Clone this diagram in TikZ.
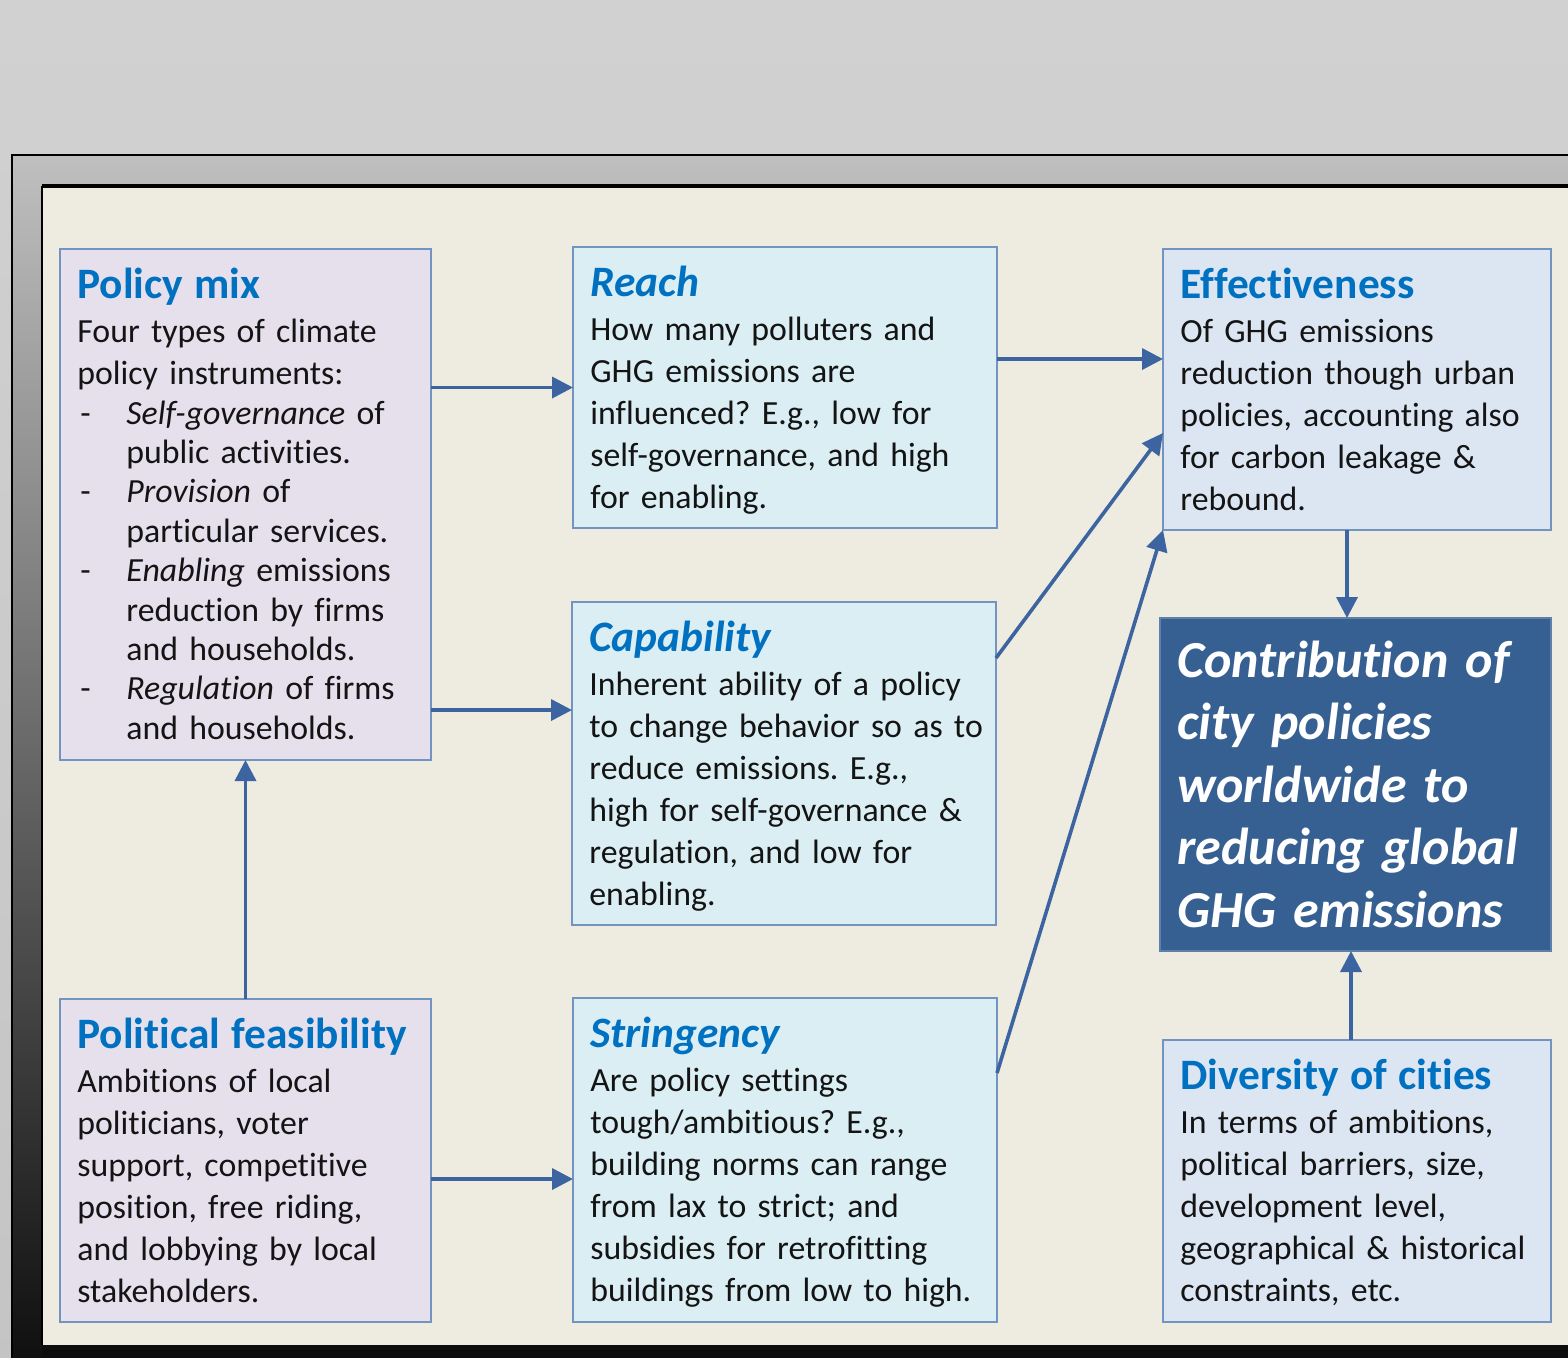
\documentclass[tikz,border=0pt]{standalone}
\usepackage{fontspec}
\setmainfont{Carlito}[Ligatures={NoCommon}]
\usetikzlibrary{arrows.meta}

\definecolor{panel}{HTML}{EEEBE0}
\definecolor{lavender}{HTML}{E5E0EC}
\definecolor{aqua}{HTML}{DAEEF3}
\definecolor{steel}{HTML}{DCE6F2}
\definecolor{boxline}{HTML}{7393C0}
\definecolor{tblue}{HTML}{0070C0}
\definecolor{navy}{HTML}{376092}
\definecolor{arrowc}{HTML}{3B64A0}
\definecolor{ink}{HTML}{141414}

\newcommand{\boxtitle}[1]{{\fontsize{21.7}{21}\selectfont\bfseries\color{tblue}#1}}
\newcommand{\itemdash}{\makebox[24.5pt][l]{\hspace{1.5pt}-}}
\newcommand{\itemgap}{\hspace*{24.5pt}}
\frenchspacing

\begin{document}
\begin{tikzpicture}[x=0.5pt,y=-0.5pt,
  box/.style={draw=boxline, line width=0.75pt, inner sep=0pt, outer sep=0pt, anchor=north west},
  txt/.style={anchor=base west, inner sep=0pt, text width=215pt, align=left,
              font=\fontsize{16.9}{21}\selectfont, text=ink},
  bigtxt/.style={anchor=base west, inner sep=0pt, text width=195pt, align=left,
              font=\fontsize{26}{31.25}\selectfont\bfseries\itshape, text=white},
  arr/.style={draw=arrowc, line width=1.8pt, -{Triangle[length=10.5pt,width=10.5pt]}}]

\useasboundingbox (0,0) rectangle (1568,1357);
\clip (0,0) rectangle (1568,1357);

% backdrop and window frame
\shade[top color=black!18, bottom color=black!23] (0,0) rectangle (1568,1357);
\shade[top color=black!25, middle color=black!46, bottom color=black!94] (12,155) rectangle (1580,1360);
\draw[black, line width=1pt] (1580,155) -- (12,155) -- (12,1360);
\fill[panel] (42,186) rectangle (1580,1345);
\draw[black, line width=2pt] (42,186) -- (1580,186);
\draw[black, line width=1pt] (42,186) -- (42,1345);
\fill[black!95] (42,1345) rectangle (1580,1360);

% boxes
\node[box, fill=lavender, minimum width=185.5pt, minimum height=255.5pt] (pmix) at (60,249) {};
\node[box, fill=lavender, minimum width=185.5pt, minimum height=161.5pt] (polit) at (60,999) {};
\node[box, fill=aqua, minimum width=212pt, minimum height=140.5pt] (reach) at (573,247) {};
\node[box, fill=aqua, minimum width=212pt, minimum height=161.5pt] (cap) at (572,602) {};
\node[box, fill=aqua, minimum width=212pt, minimum height=162pt] (strin) at (573,998) {};
\node[box, fill=steel, minimum width=194pt, minimum height=140.5pt] (eff) at (1163,249) {};
\node[box, fill=navy, draw=navy!80!white, minimum width=195.5pt, minimum height=166.5pt] (contrib) at (1160,618) {};
\node[box, fill=steel, minimum width=194pt, minimum height=141pt] (div) at (1163,1040) {};

% texts
\node[txt] (pmixT) at ([xshift=8.5pt,yshift=-24.5pt]pmix.north west) {%
\boxtitle{Policy mix}\\[1pt]
Four types of climate\\
policy instruments:\\[-1pt]
\itemdash\textit{Self-governance} of\\[-1.3pt]
\itemgap public activities.\\[-1.3pt]
\itemdash\textit{Provision} of\\[-1.3pt]
\itemgap particular services.\\[-1.3pt]
\itemdash\textit{Enabling} emissions\\[-1.3pt]
\itemgap reduction by firms\\[-1.3pt]
\itemgap and households.\\[-1.3pt]
\itemdash\textit{Regulation} of firms\\[-1.3pt]
\itemgap and households.};

\node[txt] (politT) at ([xshift=8.5pt,yshift=-24.5pt]polit.north west) {%
\boxtitle{Political feasibility}\\[1pt]
Ambitions of local\\
politicians, voter\\
support, competitive\\
position, free riding,\\
and lobbying by local\\
stakeholders.};

\node[txt] (reachT) at ([xshift=8.5pt,yshift=-24.5pt]reach.north west) {%
\boxtitle{\itshape Reach}\\[1pt]
How many polluters and\\
GHG emissions are\\
influenced? E.g., low for\\
self-governance, and high\\
for enabling.};

\node[txt] (capT) at ([xshift=8.5pt,yshift=-24.5pt]cap.north west) {%
\boxtitle{\itshape Capability}\\[1pt]
Inherent ability of a policy\\
to change behavior so as to\\
reduce emissions. E.g.,\\
high for self-governance \&\\
regulation, and low for\\
enabling.};

\node[txt] (strinT) at ([xshift=8.5pt,yshift=-24.5pt]strin.north west) {%
\boxtitle{\itshape Stringency}\\[1pt]
Are policy settings\\
tough/ambitious? E.g.,\\
building norms can range\\
from lax to strict; and\\
subsidies for retrofitting\\
buildings from low to high.};

\node[txt] (effT) at ([xshift=8.5pt,yshift=-24.5pt]eff.north west) {%
\boxtitle{Effectiveness}\\[1pt]
Of GHG emissions\\
reduction though urban\\
policies, accounting also\\
for carbon leakage \&\\
rebound.};

\node[bigtxt] (contribT) at ([xshift=8.5pt,yshift=-29.5pt]contrib.north west) {%
Contribution of\\
city policies\\
worldwide to\\
reducing global\\
GHG emissions};

\node[txt] (divT) at ([xshift=8.5pt,yshift=-24.5pt]div.north west) {%
\boxtitle{Diversity of cities}\\[1pt]
In terms of ambitions,\\
political barriers, size,\\
development level,\\
geographical \& historical\\
constraints, etc.};

% connectors
\draw[arr] (pmix.east |- reach.west) -- (reach.west);
\draw[arr] (pmix.east |- 0,710) -- (cap.west |- 0,710);
\draw[arr] (polit.east |- 0,1179) -- (strin.west |- 0,1179);
\draw[arr] (polit.north) -- (pmix.south);
\draw[arr] (reach.east |- 0,359) -- (eff.west |- 0,359);
\draw[arr] ([yshift=-28pt]cap.north east) -- ([yshift=-21.75pt]eff.west);
\draw[arr] ([yshift=-37.5pt]strin.north east) -- (eff.south west);
\draw[arr] ([xshift=-5pt]eff.south) -- ([xshift=-5pt]eff.south |- contrib.north);
\draw[arr] ([xshift=-3pt]div.north) -- ([xshift=-3pt]div.north |- contrib.south);
\end{tikzpicture}
\end{document}
